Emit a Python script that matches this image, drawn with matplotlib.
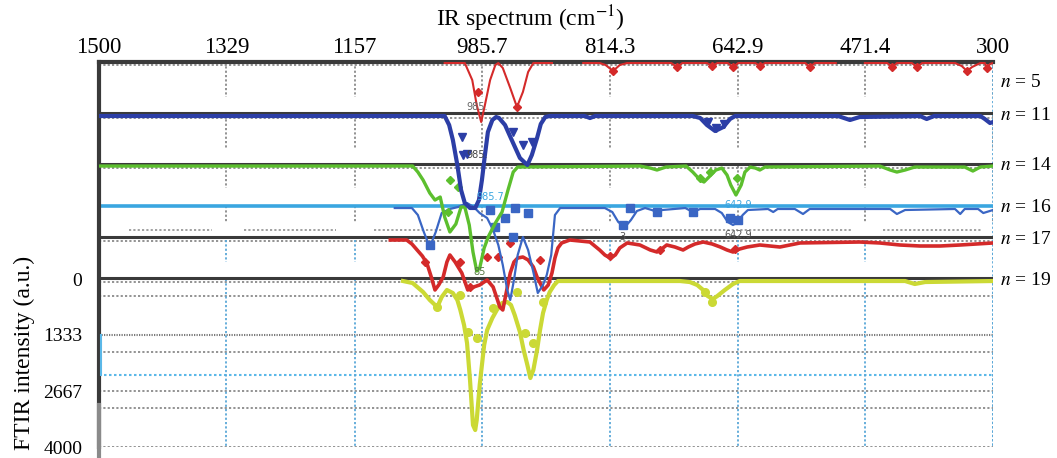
import numpy as np
import matplotlib
matplotlib.use("Agg")
import matplotlib.pyplot as plt

plt.rcParams['font.family'] = ['Liberation Serif', 'DejaVu Serif']
plt.rcParams['mathtext.fontset'] = 'stix'

# x: wavenumber (cm-1), y: FTIR intensity (a.u.), axis runs downward
xticks = [1500, 1329, 1157, 985.7, 814.3, 642.9, 471.4, 300]
xticklabels = ['1500', '1329', '1157', '985.7', '814.3', '642.9', '471.4', '300']
yticks = [0, 1333, 2667, 4000]

labels = ['$n$ = 5', '$n$ = 11', '$n$ = 14', '$n$ = 16', '$n$ = 17', '$n$ = 19']
label_y = [-4690, -3905, -2714, -1714, -929, 24]

# baseline of each trace
off5, off11, off14, off16, off17, off19 = -5143, -3881, -2690, -1738, -929, 48

# n = 5 (three pieces)
wn5a = [1036, 1009, 999, 993, 987, 982, 975, 968, 964, 958, 948, 939, 931, 924, 917, 892]
d5a = [0, 0, 405, 1000, 1405, 1000, 405, 48, 0, 119, 595, 1048, 690, 214, 0, 0]
wn5b = [850, 828, 820, 810, 801, 791, 732, 724, 717, 684, 677, 670, 656, 649, 642, 619, 613, 606,
        552, 546, 539, 511]
d5b = [0, 0, 48, 190, 48, 0, 0, 95, 0, 0, 71, 0, 0, 95, 0, 0, 71, 0, 0, 95, 0, 0]
wn5c = [472, 442, 435, 429, 409, 402, 395, 351, 342, 335, 328, 317, 311, 308, 304, 300]
d5c = [0, 0, 95, 0, 0, 95, 0, 0, 71, 190, 95, 0, 0, 119, 24, 0]
mk5_wn = [991, 939, 810, 724, 677, 649, 613, 546, 435, 402, 335, 308]
mk5_d = [690, 1048, 190, 95, 71, 95, 71, 95, 95, 95, 190, 119]

# n = 11
wn11 = [1500, 1036, 1030, 1025, 1019, 1014, 1009, 1002, 995, 990, 986, 982, 978, 972, 967, 963,
        955, 946, 935, 925, 919, 912, 907, 901, 895, 848, 841, 834, 703, 693, 684, 673, 662, 653,
        646, 508, 492, 479, 398, 389, 379, 317, 311, 304, 300]
d11 = [0, 0, 214, 571, 1167, 1762, 2071, 2190, 2190, 2000, 1524, 929, 381, 95, 24, 48,
       214, 571, 1000, 1167, 929, 524, 190, 24, 0, 0, 48, 0, 0, 48, 214, 357, 262, 71,
       0, 0, 95, 24, 0, 71, 0, 0, 71, 167, 143]
mk11_wn = [1013, 1011, 1006, 931, 944, 919, 682, 672, 661]
mk11_d = [500, 929, 905, 690, 381, 619, 143, 286, 190]

# n = 14
wn14 = [1500, 1079, 1072, 1065, 1056, 1049, 1042, 1036, 1029, 1021, 1014, 1009, 1003, 998, 993,
        989, 983, 977, 968, 959, 951, 944, 938, 774, 760, 751, 739, 712, 703, 693, 688, 680, 672,
        664, 657, 652, 645, 638, 633, 626, 619, 613, 606, 452, 438, 429, 418, 405, 338, 327, 317, 300]
d14 = [0, 0, 143, 333, 643, 810, 738, 1214, 1571, 1381, 976, 976, 1405, 2048, 2500,
       2429, 1952, 1667, 1357, 1095, 571, 143, 24, 0, 48, 95, 24, 0, 143, 333, 381, 238, 95,
       48, 214, 452, 690, 452, 143, 24, 48, 95, 24, 0, 95, 143, 95, 24, 24, 119, 24, 0]
mk14_wn = [1029, 1018, 1032, 693, 680, 644]
mk14_d = [333, 500, 1095, 286, 143, 286]

# n = 16
wn16 = [1103, 1080, 1072, 1064, 1056, 1048, 1040, 1029, 1018, 1006, 997, 989, 979, 971, 964, 958,
        952, 948, 943, 938, 931, 924, 917, 911, 904, 899, 893, 888, 881, 821, 811, 803, 794, 786,
        778, 767, 758, 751, 744, 713, 703, 693, 673, 664, 656, 649, 642, 636, 629, 602, 595, 589,
        566, 555, 546, 438, 429, 418, 351, 344, 338, 320, 313, 300]
d16 = [48, 48, 214, 619, 976, 619, 167, 71, 24, -71, 24, 167, 286, 571, 929, 1405,
       2000, 2238, 1762, 1167, 738, 1048, 1571, 2071, 1881, 1643, 1167, 214, 48, 48, 143, 381, 500, 333,
       119, 48, 95, 143, 95, 48, 143, 71, 71, 167, 381, 452, 381, 214, 95, 71, 143, 71,
       71, 190, 71, 71, 190, 95, 71, 190, 71, 71, 167, 95]
mk16_wn = [975, 955, 942, 924, 968, 944, 1056, 787, 751, 703, 653, 642, 797]
mk16_d = [95, 286, 48, 167, 500, 738, 929, 48, 143, 143, 286, 333, 452]

# n = 17
wn17 = [1109, 1087, 1080, 1073, 1066, 1060, 1054, 1049, 1044, 1038, 1033, 1029, 1022, 1013, 1005,
        997, 989, 979, 971, 966, 962, 958, 954, 948, 943, 938, 931, 924, 917, 912, 908, 903, 897,
        892, 888, 884, 879, 868, 841, 828, 821, 814, 807, 801, 791, 774, 760, 751, 743, 738, 727,
        716, 709, 700, 689, 677, 666, 657, 649, 640, 630, 613, 586, 559, 479, 452, 425, 398, 371,
        344, 300]
d17 = [0, 0, 95, 238, 381, 548, 881, 1190, 1071, 881, 524, 357, 524, 786, 1190,
       1119, 1071, 952, 1119, 1381, 1595, 1667, 1310, 786, 524, 429, 405, 476, 643, 881, 1024, 1190, 1071,
       786, 429, 190, 71, 0, 48, 238, 357, 429, 357, 190, 71, 119, 238, 286, 190, 119, 167,
       238, 167, 95, 48, 95, 167, 238, 286, 214, 167, 119, 167, 71, 48, 71, 119, 143, 143,
       119, 71]
mk17_wn = [1062, 1015, 979, 964, 948, 908, 1002, 814, 747, 646]
mk17_d = [524, 524, 405, 405, 71, 476, 1119, 381, 238, 214]

# n = 19
wn19 = [1092, 1079, 1065, 1056, 1046, 1040, 1033, 1025, 1019, 1015, 1010, 1006, 1002, 998, 995,
        993, 989, 983, 979, 972, 966, 959, 952, 947, 942, 935, 930, 925, 921, 917, 912, 908, 904,
        899, 895, 889, 884, 720, 707, 697, 689, 683, 676, 670, 660, 649, 640, 418, 405, 391, 300]
d19 = [0, 48, 262, 452, 619, 381, 214, 286, 452, 690, 1048, 1476, 2357, 3429, 3548,
       3310, 2476, 1524, 1167, 881, 690, 524, 500, 571, 810, 1214, 1643, 2000, 2310, 2119, 1643, 1167, 762,
       452, 262, 95, 0, 0, 24, 95, 214, 357, 429, 357, 214, 71, 0, 0, 71, 24, 0]
mk19_wn = [1046, 1015, 1005, 993, 971, 939, 928, 917, 904, 686, 677]
mk19_d = [619, 333, 1214, 1357, 643, 262, 1238, 1476, 500, 262, 500]

fig = plt.figure(figsize=(10.57, 4.58), dpi=100)
ax = fig.add_axes([99 / 1057, 11 / 458, 894 / 1057, 385 / 458])
ax.set_xlim(1500, 300)
ax.set_ylim(4000, -5167)

# dotted background lines
for yy in [-5095, -3833, -2643, -905, 71, 405, 1738, 2667, 3071, 4000]:
    ax.axhline(yy, color='#8a8a8a', lw=1.3, ls=(0, (1.2, 1.2)), zorder=1)
ax.axhline(1333, color='#7a7a7a', lw=1.5, ls=(0, (0.6, 0.6)), zorder=1)
ax.axhline(2286, color='#5bb8e8', lw=1.5, ls=(0, (1.2, 1.2)), zorder=1)
for a, b in [(1460, 1348), (1305, 1182), (1131, 1040), (881, 828), (784, 488), (448, 316)]:
    ax.plot([a, b], [-1167, -1167], color='#9a9a9a', lw=1.3, ls=(0, (1.2, 1.2)), zorder=1)

segs = [(-5167, -4333), (-3905, -3119), (-2690, -2167), (-1738, -1357), (-929, -405), (0, 4000)]
for xx in xticks[1:]:
    for k, (a, b) in enumerate(segs):
        c = '#5aa8d8' if k >= 4 else '#8a8a8a'
        ax.plot([xx, xx], [a, b], color=c, lw=1.3, ls=(0, (1.2, 1.2)), zorder=1)

# dark separators
for yy in [-3952, -2738, -1000, -24]:
    ax.axhline(yy, color='#3a3a3a', lw=2.2, zorder=2)
ax.axhline(off16, color='#3aa6e0', lw=2.6, zorder=2)

# traces
ax.plot(wn19, np.array(d19) + off19, color='#cbd935', lw=3.0, zorder=3)
ax.plot(mk19_wn, np.array(mk19_d) + off19, 'o', color='#cbd935', ms=5.5, zorder=3)
ax.plot(wn17, np.array(d17) + off17, color='#d42a2a', lw=2.6, zorder=4)
ax.plot(mk17_wn, np.array(mk17_d) + off17, 'D', color='#d42a2a', ms=4.5, zorder=4)
ax.plot(wn16, np.array(d16) + off16, color='#3a66c4', lw=1.6, zorder=5)
ax.plot(mk16_wn, np.array(mk16_d) + off16, 's', color='#3a66c4', ms=5.5, zorder=5)
ax.plot(wn14, np.array(d14) + off14, color='#5cbf2e', lw=2.4, zorder=6)
ax.plot(mk14_wn, np.array(mk14_d) + off14, 'D', color='#5cbf2e', ms=4.5, zorder=6)
ax.plot(wn11, np.array(d11) + off11, color='#2c3ea6', lw=3.0, zorder=7)
ax.plot(mk11_wn, np.array(mk11_d) + off11, 'v', color='#2c3ea6', ms=5.5, zorder=7)
for w, d in [(wn5a, d5a), (wn5b, d5b), (wn5c, d5c)]:
    ax.plot(w, np.array(d) + off5, color='#d42a2a', lw=1.5, zorder=8)
ax.plot(mk5_wn, np.array(mk5_d) + off5, 'D', color='#d42a2a', ms=4.5, zorder=8)

# little peak tags
tags = [(993, -4095, '985.', '#666666'), (993, -2952, '985.', '#444444'),
        (975, -1952, '985.7', '#3aa6e0'), (642, -1762, '642.9', '#3aa6e0'),
        (642, -1048, '642.9', '#555555'), (797, -1000, '3', '#555555'),
        (989, -167, '85', '#557744')]
for x, y, t, c in tags:
    ax.text(x, y, t, color=c, fontsize=7, ha='center', va='center', family='DejaVu Sans', zorder=9)

# right hand labels
for y, t in zip(label_y, labels):
    ax.text(1.008, y, t, transform=ax.get_yaxis_transform(), fontsize=14,
            ha='left', va='center')

ax.xaxis.tick_top()
ax.xaxis.set_label_position('top')
ax.set_xticks(xticks)
ax.set_xticklabels(xticklabels)
ax.set_yticks(yticks)
ax.tick_params(axis='x', length=0, pad=3, labelsize=16.5)
ax.tick_params(axis='y', length=0, pad=12, labelsize=14)
ax.set_xlabel('IR spectrum (cm$^{-1}$)', fontsize=17)
ax.xaxis.set_label_coords(0.482, 1.092)
ax.set_ylabel('FTIR intensity (a.u.)', fontsize=17)
ax.yaxis.set_label_coords(-0.072, 0.245)

for s in ['right', 'bottom']:
    ax.spines[s].set_visible(False)
ax.spines['top'].set_linewidth(3)
ax.spines['top'].set_color('#3a3a3a')
ax.spines['left'].set_linewidth(3)
ax.spines['left'].set_color('#3a3a3a')
ax.plot([1500, 1500], [3000, 4260], color='#8a8a8a', lw=3, clip_on=False, zorder=10)
ax.plot([1497, 1497], [1333, 2286], color='#5bb8e8', lw=1.5, zorder=10)
ax.plot([300, 300], [-5167, 4000], color='#5aa8d8', lw=1.3, ls=(0, (1.2, 1.2)), zorder=1)

fig.savefig('out.png', dpi=100)
